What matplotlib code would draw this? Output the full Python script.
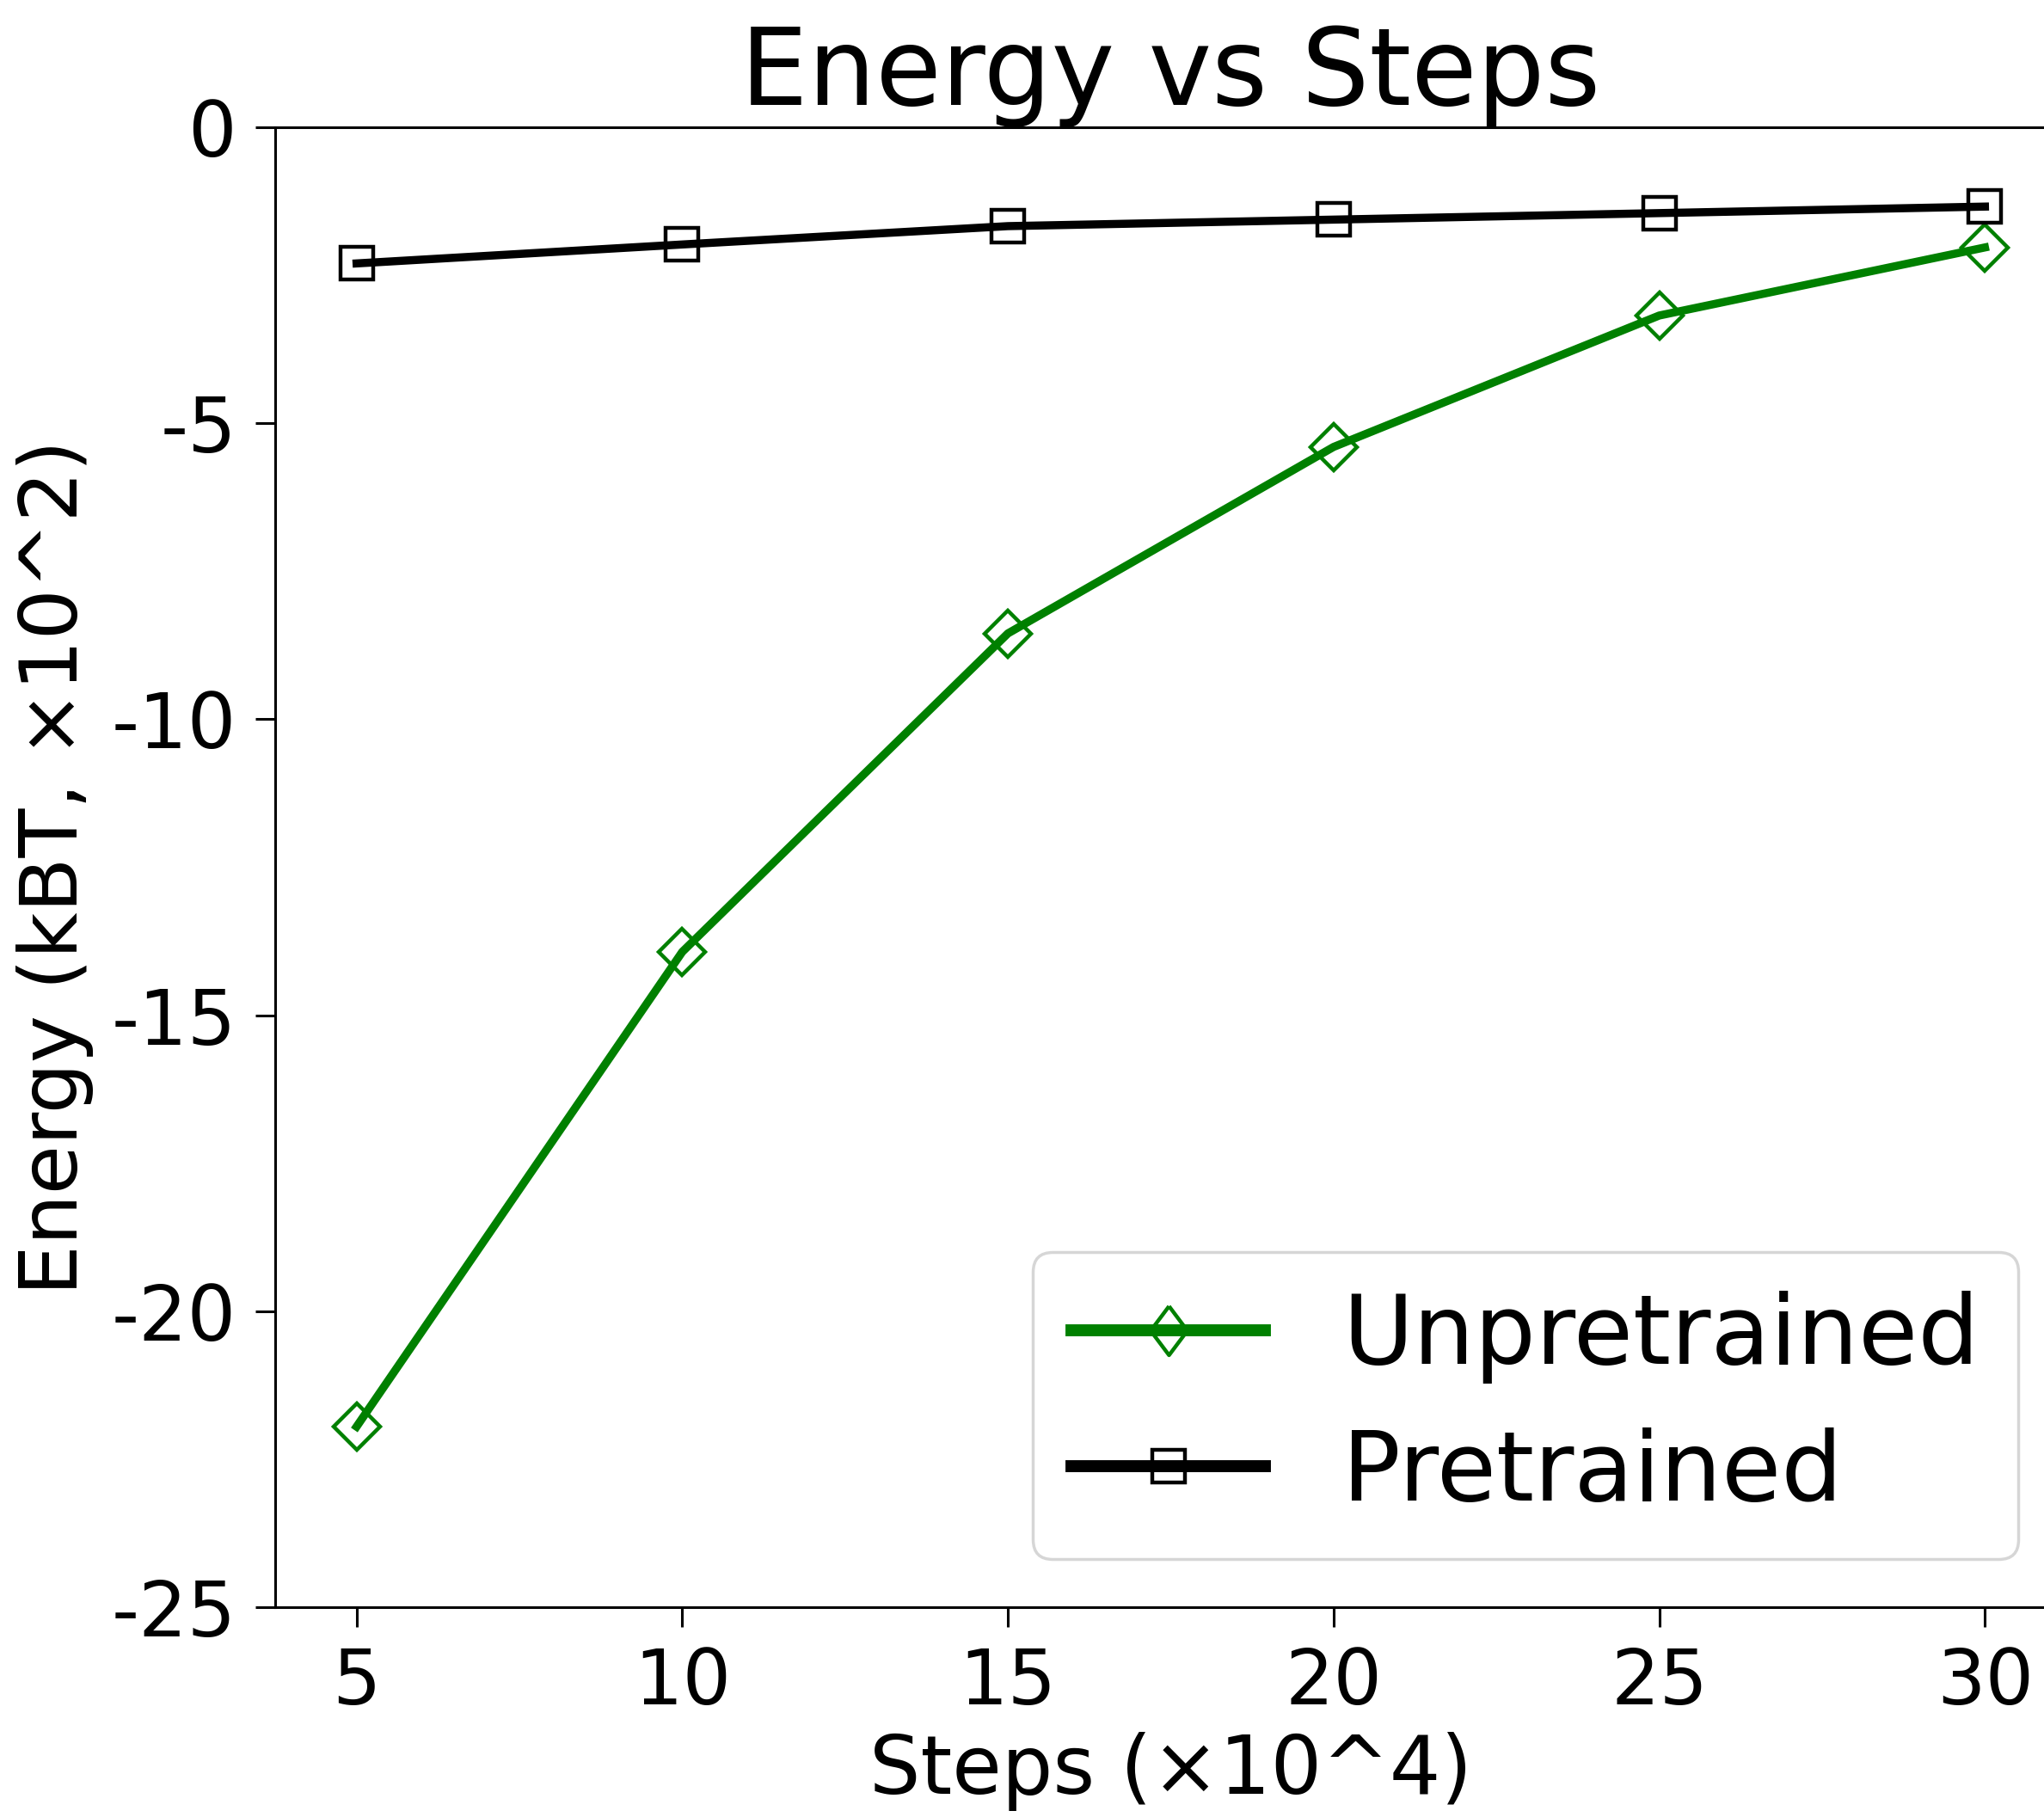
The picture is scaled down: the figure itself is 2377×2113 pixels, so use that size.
# Energy vs training steps, pretrained vs unpretrained model
import matplotlib
matplotlib.use("Agg")
import matplotlib.pyplot as plt
from matplotlib.lines import Line2D

plt.rcParams['axes.unicode_minus'] = False

steps = [5, 10, 15, 20, 25, 30]
unpretrained = [-21.95, -13.93, -8.55, -5.40, -3.18, -2.03]
pretrained = [-2.30, -1.98, -1.67, -1.56, -1.45, -1.34]
y_ticks = [0, -5, -10, -15, -20, -25]


def main():
    fig = plt.figure(figsize=(23.77, 21.13), dpi=100)
    # axes runs past the right edge, like in the original crop
    ax = fig.add_axes([320 / 2377, 244 / 2113, 2083 / 2377, 1721 / 2113])

    ax.plot(steps, unpretrained, color='green', lw=6.8, marker='D', ms=28,
            mfc='none', mec='green', mew=3.2)
    ax.plot(steps, pretrained, color='black', lw=6.8, marker='s', ms=28,
            mfc='none', mec='black', mew=3.2)

    ax.set_xlim(3.75, 31.25)
    ax.set_ylim(-25, 0)
    ax.set_xticks(steps)
    ax.set_yticks(y_ticks)
    ax.tick_params(labelsize=64, length=16.5, width=2.2, pad=16)
    for sp in ax.spines.values():
        sp.set_linewidth(2.2)

    ax.set_title("Energy vs Steps", fontsize=89.5, pad=16)
    ax.set_xlabel("Steps (×10^4)", fontsize=67.5, labelpad=9)
    ax.set_ylabel("Energy (kBT, ×10^2)", fontsize=67, labelpad=15)

    diamond = [(0, 1), (0.75, 0), (0, -1), (-0.75, 0), (0, 1)]
    handles = [
        Line2D([], [], color='green', lw=10, marker=diamond, ms=41,
               mfc='none', mec='green', mew=3.2),
        Line2D([], [], color='black', lw=10, marker='s', ms=28,
               mfc='none', mec='black', mew=3.2),
    ]
    leg = ax.legend(handles, ["Unpretrained", "Pretrained"], loc='lower right',
                    fontsize=81, labelspacing=0.45)
    leg.get_frame().set_linewidth(2.5)

    fig.savefig("out.png", dpi=100)


main()
